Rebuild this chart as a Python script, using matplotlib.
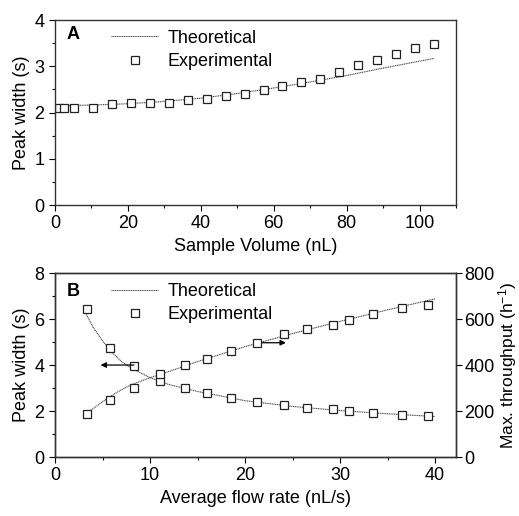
import matplotlib
matplotlib.use("Agg")
import matplotlib.pyplot as plt
from matplotlib.ticker import MultipleLocator

plt.rcParams['font.family'] = ['Liberation Sans', 'DejaVu Sans']
plt.rcParams['font.size'] = 12
plt.rcParams['mathtext.fontset'] = 'custom'
plt.rcParams['mathtext.rm'] = 'Liberation Sans'
plt.rcParams['mathtext.it'] = 'Liberation Sans:italic'
plt.rcParams['mathtext.bf'] = 'Liberation Sans:bold'

# Panel A data
volA_exp = [1.1, 2.6, 5.2, 10.4, 15.6, 20.8, 26.0, 31.2, 36.4, 41.6, 46.8, 52.0,
            57.2, 62.4, 67.6, 72.8, 78.0, 83.2, 88.4, 93.6, 98.8, 104.0]
widthA_exp = [2.09, 2.09, 2.10, 2.09, 2.18, 2.20, 2.20, 2.21, 2.27, 2.30, 2.36, 2.41,
              2.49, 2.57, 2.66, 2.72, 2.87, 3.02, 3.14, 3.27, 3.39, 3.49]
volA_th = [0, 10, 20, 30, 40, 50, 60, 70, 80, 90, 104]
widthA_th = [2.15, 2.16, 2.19, 2.24, 2.31, 2.41, 2.53, 2.66, 2.80, 2.96, 3.17]

# Panel B data
flow_exp = [3.36, 5.8, 8.27, 11.06, 13.7, 16.0, 18.5, 21.3, 24.1, 26.5, 29.3, 30.9, 33.5, 36.5, 39.3]
widthB_exp = [6.42, 4.75, 3.97, 3.30, 2.99, 2.80, 2.57, 2.40, 2.25, 2.14, 2.08, 2.01, 1.92, 1.84, 1.80]
thru_exp = [185, 250, 300, 360, 399, 428, 462, 497, 533, 557, 573, 594, 622, 649, 661]
flow_th = [3.3, 4.0, 5.0, 6.0, 7.0, 8.0, 10.0, 12.0, 15.0, 20.0, 25.0, 30.0, 35.0, 40.0]
widthB_th = [6.20, 5.65, 5.05, 4.55, 4.15, 3.87, 3.45, 3.15, 2.85, 2.45, 2.20, 2.02, 1.88, 1.76]
thru_th = [190, 210, 240, 268, 293, 314, 345, 372, 415, 480, 537, 590, 640, 688]

fig = plt.figure(figsize=(5.19, 5.16), dpi=100)
axA = fig.add_axes([0.106, 0.6027, 0.7726, 0.3585])
axB = fig.add_axes([0.106, 0.1143, 0.7726, 0.3565])

line_kw = dict(color='#444444', linestyle=(0, (1, 0.6)), linewidth=0.8)
mk_kw = dict(linestyle='none', marker='s', markersize=5.2, markerfacecolor='white',
             markeredgecolor='#222222', markeredgewidth=0.9)

for ax in (axA, axB):
    ax.tick_params(direction='out', length=4, width=0.8, labelsize=13)
    ax.tick_params(which='minor', direction='out', length=2.5, width=0.8)
    for s in ax.spines.values():
        s.set_linewidth(1.0)
        s.set_color('#333333')

# Panel A
axA.plot(volA_th, widthA_th, label='Theoretical', **line_kw)
axA.plot(volA_exp, widthA_exp, label='Experimental', **mk_kw)
axA.set_xlim(0, 110)
axA.set_ylim(0, 4)
axA.xaxis.set_major_locator(MultipleLocator(20))
axA.xaxis.set_minor_locator(MultipleLocator(10))
axA.yaxis.set_major_locator(MultipleLocator(1))
axA.yaxis.set_minor_locator(MultipleLocator(0.5))
axA.set_xlabel('Sample Volume (nL)', fontsize=13, labelpad=4)
axA.set_ylabel('Peak width (s)', fontsize=13, labelpad=3)
axA.text(0.03, 0.92, 'A', transform=axA.transAxes, fontsize=13, fontweight='bold',
         va='center', ha='left')
axA.legend(loc='upper left', bbox_to_anchor=(0.1, 1.035), frameon=False, fontsize=13,
           handlelength=2.6, handletextpad=0.5, labelspacing=0.35)

# Panel B
axB.plot(flow_th, widthB_th, label='Theoretical', **line_kw)
axB.plot(flow_exp, widthB_exp, label='Experimental', **mk_kw)
axB.set_xlim(0, 42.2)
axB.set_ylim(0, 8)
axB.xaxis.set_major_locator(MultipleLocator(10))
axB.xaxis.set_minor_locator(MultipleLocator(5))
axB.yaxis.set_major_locator(MultipleLocator(2))
axB.yaxis.set_minor_locator(MultipleLocator(1))
axB.set_xlabel('Average flow rate (nL/s)', fontsize=13, labelpad=4)
axB.set_ylabel('Peak width (s)', fontsize=13, labelpad=3)
axB.text(0.03, 0.9, 'B', transform=axB.transAxes, fontsize=13, fontweight='bold',
         va='center', ha='left')
axB.legend(loc='upper left', bbox_to_anchor=(0.1, 1.035), frameon=False, fontsize=13,
           handlelength=2.6, handletextpad=0.5, labelspacing=0.35)

axB2 = axB.twinx()
axB2.plot(flow_th, thru_th, **line_kw)
axB2.plot(flow_exp, thru_exp, **mk_kw)
axB2.set_ylim(0, 800)
axB2.yaxis.set_major_locator(MultipleLocator(200))
axB2.tick_params(direction='out', length=4, width=0.8, labelsize=13, pad=2)
axB2.set_ylabel('Max. throughput (h$^{\\mathregular{-1}}$)', fontsize=12.5, labelpad=1)
for s in axB2.spines.values():
    s.set_linewidth(1.0)
    s.set_color('#333333')

# arrows
axB.annotate('', xy=(4.8, 4.0), xytext=(8.3, 4.0),
             arrowprops=dict(arrowstyle='-|>', color='black', lw=0.9,
                             mutation_scale=8, shrinkA=0, shrinkB=0))
axB.annotate('', xy=(24.3, 4.97), xytext=(21.3, 4.97),
             arrowprops=dict(arrowstyle='-|>', color='black', lw=0.9,
                             mutation_scale=8, shrinkA=0, shrinkB=0))

fig.savefig('out.png', dpi=100)
